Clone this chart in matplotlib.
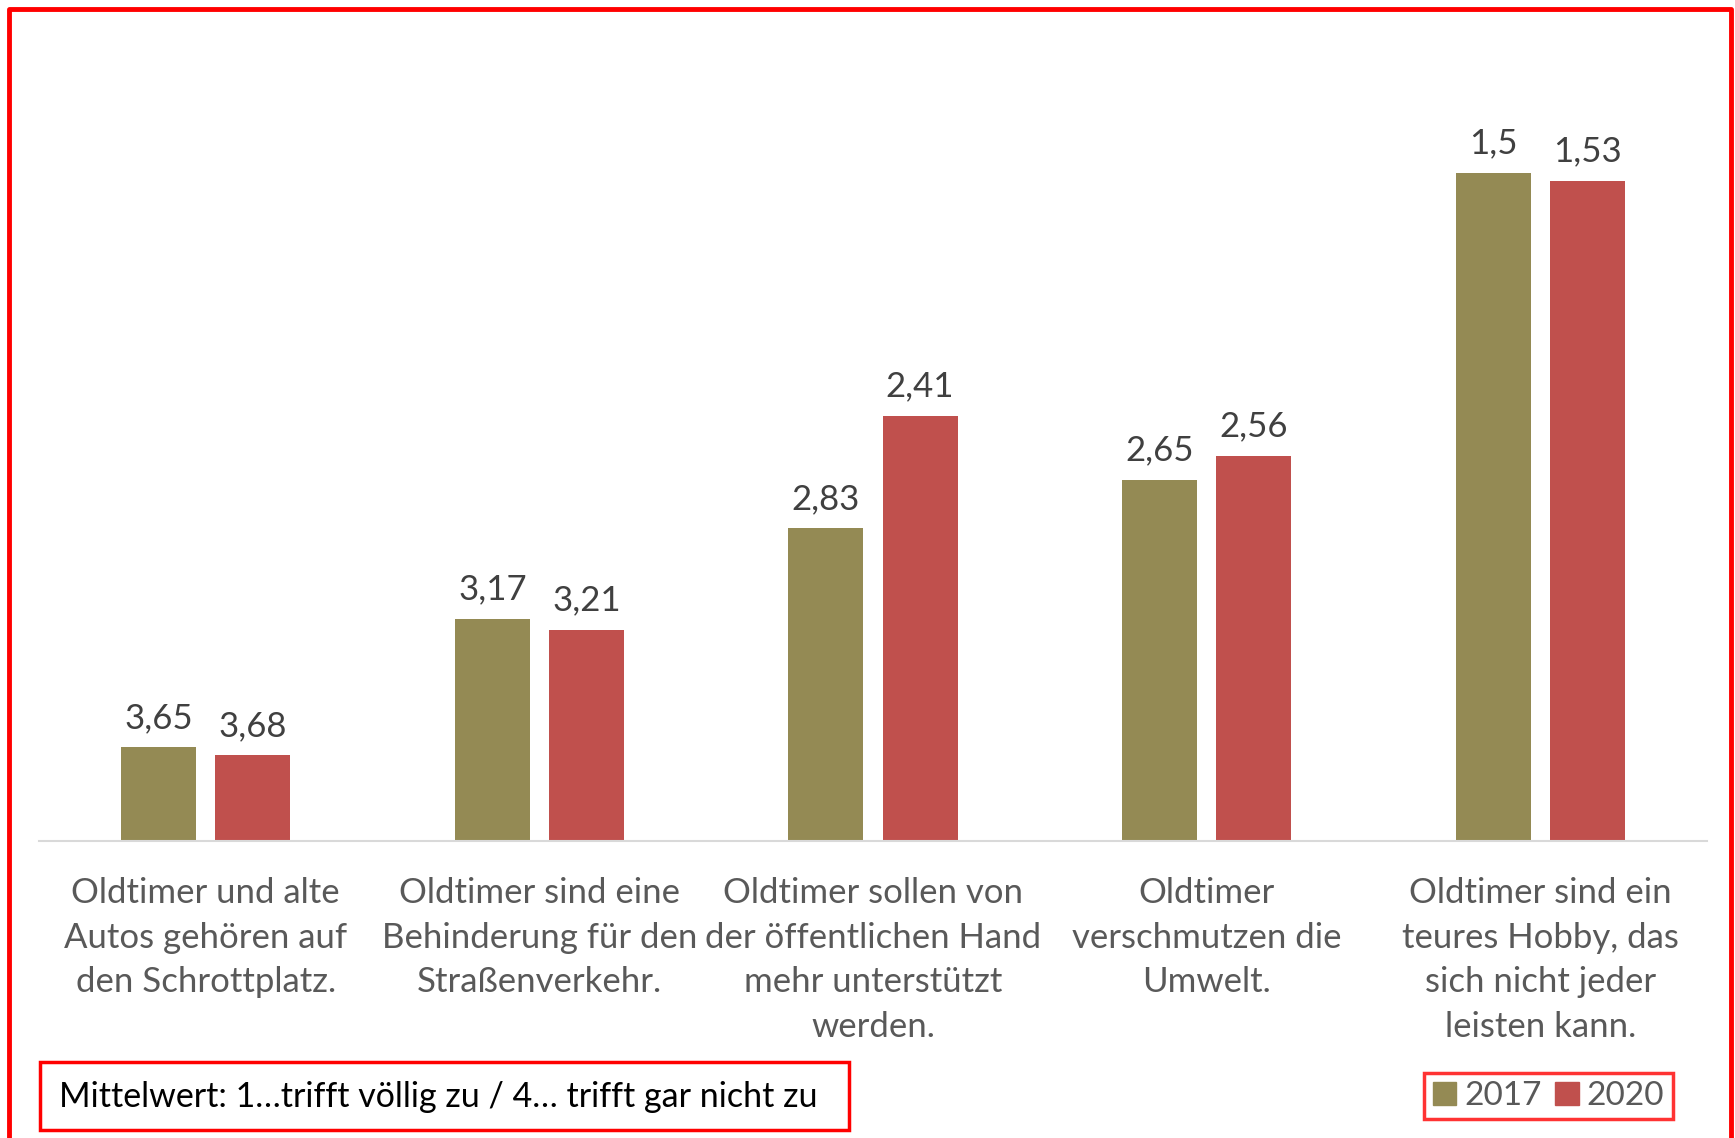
import matplotlib
matplotlib.use("Agg")
import matplotlib.pyplot as plt
import numpy as np
from matplotlib.lines import Line2D
from matplotlib.patches import Rectangle, Patch

plt.rcParams['font.family'] = ['Lato', 'DejaVu Sans']

categories = [
    "Oldtimer und alte\nAutos gehören auf\nden Schrottplatz.",
    "Oldtimer sind eine\nBehinderung für den\nStraßenverkehr.",
    "Oldtimer sollen von\nder öffentlichen Hand\nmehr unterstützt\nwerden.",
    "Oldtimer\nverschmutzen die\nUmwelt.",
    "Oldtimer sind ein\nteures Hobby, das\nsich nicht jeder\nleisten kann.",
]
series_names = ["2017", "2020"]
values_2017 = [3.65, 3.17, 2.83, 2.65, 1.5]
values_2020 = [3.68, 3.21, 2.41, 2.56, 1.53]
labels_2017 = ["3,65", "3,17", "2,83", "2,65", "1,5"]
labels_2020 = ["3,68", "3,21", "2,41", "2,56", "1,53"]
note_text = "Mittelwert: 1…trifft völlig zu / 4… trifft gar nicht zu"

col_2017 = "#948A54"
col_2020 = "#C0504D"
red = "#FF0000"

W, H = 1735, 1138
fig = plt.figure(figsize=(W / 100, H / 100), dpi=100)
ax = fig.add_axes([39 / W, 1 - 841 / H, (1707 - 39) / W, (841 - 39) / H])

x = np.arange(len(categories))
bw = 0.225
off = 0.141
base = 4.0
v17 = np.array(values_2017)
v20 = np.array(values_2020)
ax.bar(x - off, v17 - base, bottom=base, width=bw, color=col_2017, label=series_names[0])
ax.bar(x + off, v20 - base, bottom=base, width=bw, color=col_2020, label=series_names[1])

for xi, v, t in zip(x - off, v17, labels_2017):
    ax.annotate(t, (xi, v), xytext=(0, 14), textcoords="offset points",
                ha="center", va="baseline", fontsize=25, color="#404040")
for xi, v, t in zip(x + off, v20, labels_2020):
    ax.annotate(t, (xi, v), xytext=(0, 14), textcoords="offset points",
                ha="center", va="baseline", fontsize=25, color="#404040")

ax.set_xlim(-0.5, len(categories) - 0.5)
ax.set_ylim(4, 1)
ax.set_yticks([])
ax.set_xticks(x)
ax.set_xticklabels(categories, fontsize=25, color="#595959", linespacing=1.48)
ax.tick_params(axis="x", length=0, pad=26)
for s in ["top", "left", "right"]:
    ax.spines[s].set_visible(False)
ax.spines["bottom"].set_color("#D9D9D9")
ax.spines["bottom"].set_linewidth(1.5)

# outer frame
fx0, fx1, fy1 = 9 / W, 1731 / W, 1 - 9 / H
fig.add_artist(Line2D([fx0, fx0, fx1, fx1], [-0.01, fy1, fy1, -0.01],
                      transform=fig.transFigure, color=red, lw=3.5))

# note box
fig.add_artist(Rectangle((40 / W, 1 - 1130 / H), (849 - 40) / W, (1130 - 1062) / H,
                         transform=fig.transFigure, fill=False, edgecolor=red, lw=2.5))
fig.text(59 / W, 1 - 1097 / H, note_text, fontsize=24.5, color="black",
         ha="left", va="center")

# legend
handles = [Patch(color=col_2017, label=series_names[0]),
           Patch(color=col_2020, label=series_names[1])]
leg = fig.legend(handles=handles, loc="center", bbox_to_anchor=(1548.5 / W, 1 - 1096 / H),
                 ncol=2, fontsize=24, frameon=True, fancybox=False,
                 handlelength=0.7, handleheight=0.7, handletextpad=0.25,
                 columnspacing=0.4, borderpad=0.25, borderaxespad=0, labelcolor="#595959")
leg.get_frame().set_edgecolor(red)
leg.get_frame().set_linewidth(2.5)

fig.savefig("out.png", dpi=100, facecolor="white")
